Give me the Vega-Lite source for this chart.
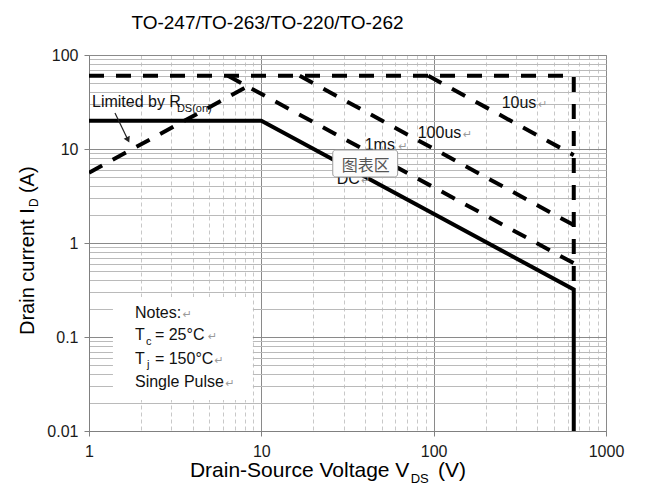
{
  "$schema": "https://vega.github.io/schema/vega-lite/v6.json",
  "width": 517,
  "height": 376,
  "autosize": {"type": "none"},
  "padding": {"left": 89, "top": 55, "right": 39, "bottom": 58},
  "background": "white",
  "title": {"text": "TO-247/TO-263/TO-220/TO-262", "font": "Liberation Sans", "fontSize": 19, "fontWeight": "normal", "color": "#000000", "anchor": "middle", "frame": "group", "dx": -80, "offset": -1, "baseline": "alphabetic"},
  "config": {
    "font": "Liberation Sans",
    "view": {"stroke": "#9a9a9a", "strokeWidth": 1}
  },
  "datasets": {
    "lines": [
      {"s": "limit", "i": 0, "x": 1, "y": 60},
      {"s": "limit", "i": 1, "x": 650, "y": 60},
      {"s": "limit", "i": 2, "x": 650, "y": 0.32},
      {"s": "10us", "i": 0, "x": 93, "y": 60},
      {"s": "10us", "i": 1, "x": 650, "y": 8.6},
      {"s": "100us", "i": 0, "x": 16.7, "y": 60},
      {"s": "100us", "i": 1, "x": 650, "y": 1.55},
      {"s": "1ms", "i": 0, "x": 6.4, "y": 60},
      {"s": "1ms", "i": 1, "x": 650, "y": 0.61},
      {"s": "rds", "i": 0, "x": 1, "y": 5.6},
      {"s": "rds", "i": 1, "x": 8.8, "y": 49},
      {"s": "DC", "i": 0, "x": 1, "y": 20},
      {"s": "DC", "i": 1, "x": 10, "y": 20},
      {"s": "DC", "i": 2, "x": 650, "y": 0.32},
      {"s": "DC", "i": 3, "x": 650, "y": 0.01}
    ],
    "boxes": [
      {"kind": "notes", "x": 1.377, "x2": 8.93, "y": 0.2664, "y2": 0.02138},
      {"kind": "tip", "x": 25.97, "x2": 61.8, "y": 9.76, "y2": 5.04}
    ],
    "arrow": [
      {"x": 1.415, "y": 24.2, "x2": 1.684, "y2": 12.5}
    ],
    "labels": [
      {"role": "main", "t": "Limited by R", "x": 1.041, "y": 28.2},
      {"role": "main", "t": "10us", "x": 248, "y": 27.3},
      {"role": "main", "t": "100us", "x": 80.8, "y": 13.1},
      {"role": "main", "t": "1ms", "x": 39.8, "y": 9.76},
      {"role": "main", "t": "DC", "x": 27.4, "y": 4.24},
      {"role": "main", "t": "Notes:", "x": 1.848, "y": 0.1592},
      {"role": "main", "t": "T", "x": 1.848, "y": 0.0929},
      {"role": "main", "t": "= 25°C", "x": 2.413, "y": 0.0929},
      {"role": "main", "t": "T", "x": 1.848, "y": 0.0516},
      {"role": "main", "t": "= 150°C", "x": 2.413, "y": 0.0516},
      {"role": "main", "t": "Single Pulse", "x": 1.848, "y": 0.0294},
      {"role": "sub", "t": "DS(on)", "x": 3.236, "y": 24.75},
      {"role": "sub", "t": "c", "x": 2.14, "y": 0.0822},
      {"role": "sub", "t": "j", "x": 2.169, "y": 0.0468},
      {"role": "mark", "t": "↵", "x": 405, "y": 27.3},
      {"role": "mark", "t": "↵", "x": 148, "y": 13.1},
      {"role": "mark", "t": "↵", "x": 62.5, "y": 9.76},
      {"role": "mark", "t": "↵", "x": 38, "y": 4.24},
      {"role": "mark", "t": "↵", "x": 3.5, "y": 0.1592},
      {"role": "mark", "t": "↵", "x": 4.9, "y": 0.0929},
      {"role": "mark", "t": "↵", "x": 5.35, "y": 0.0516},
      {"role": "mark", "t": "↵", "x": 6.2, "y": 0.0294},
      {"role": "tip", "t": "图表区", "x": 29.3, "y": 5.84},
      {"role": "xt", "t": "Drain-Source Voltage V", "x": 3.85, "y": 0.00324},
      {"role": "xs", "t": "DS", "x": 73.6, "y": 0.0028},
      {"role": "xt", "t": "(V)", "x": 106, "y": 0.00324},
      {"role": "yt", "t": "Drain current I", "x": 0.48, "y": 0.105},
      {"role": "ys", "t": "D", "x": 0.506, "y": 2.415},
      {"role": "yt", "t": "(A)", "x": 0.48, "y": 3.4}
    ]
  },
  "encoding": {
    "x": {
      "field": "x", "type": "quantitative", "title": null,
      "scale": {"type": "log", "domain": [1, 1000], "nice": false},
      "axis": {
        "values": [1,2,3,4,5,6,7,8,9,10,20,30,40,50,60,70,80,90,100,200,300,400,500,600,700,800,900,1000],
        "format": "~g",
        "labelExpr": "(datum.value==1||datum.value==10||datum.value==100||datum.value==1000) ? datum.label : ''",
        "labelFlush": false,
        "labelOverlap": false,
        "labelFont": "Liberation Sans",
        "labelFontSize": 16,
        "labelColor": "#1a1a1a",
        "labelPadding": 7,
        "grid": true,
        "gridColor": {"condition": {"test": "datum.value==1||datum.value==10||datum.value==100||datum.value==1000", "value": "#8a8a8a"}, "value": "#c8c8c8"},
        "gridDash": {"condition": {"test": "datum.value==1||datum.value==10||datum.value==100||datum.value==1000", "value": []}, "value": [4, 3]},
        "tickOpacity": {"condition": {"test": "datum.value==1||datum.value==10||datum.value==100||datum.value==1000", "value": 1}, "value": 0},
        "tickSize": 5,
        "tickColor": "#808080",
        "domainColor": "#808080",
        "title": null
      }
    },
    "y": {
      "field": "y", "type": "quantitative", "title": null,
      "scale": {"type": "log", "domain": [0.01, 100], "nice": false},
      "axis": {
        "values": [0.01,0.02,0.03,0.04,0.05,0.06,0.07,0.08,0.09,0.1,0.2,0.3,0.4,0.5,0.6,0.7,0.8,0.9,1,2,3,4,5,6,7,8,9,10,20,30,40,50,60,70,80,90,100],
        "format": "~g",
        "labelExpr": "(datum.value==0.01||datum.value==0.1||datum.value==1||datum.value==10||datum.value==100) ? datum.label : ''",
        "labelOverlap": false,
        "labelFlush": false,
        "labelFont": "Liberation Sans",
        "labelFontSize": 16,
        "labelColor": "#1a1a1a",
        "labelPadding": 6,
        "grid": true,
        "gridColor": {"condition": {"test": "datum.value==0.01||datum.value==0.1||datum.value==1||datum.value==10||datum.value==100", "value": "#8a8a8a"}, "value": "#bababa"},
        "tickOpacity": {"condition": {"test": "datum.value==0.01||datum.value==0.1||datum.value==1||datum.value==10||datum.value==100", "value": 1}, "value": 0},
        "tickSize": 5,
        "tickColor": "#808080",
        "domainColor": "#808080",
        "title": null
      }
    }
  },
  "layer": [
    {
      "data": {"name": "boxes"},
      "transform": [{"filter": "datum.kind == 'notes'"}],
      "mark": {"type": "rect", "fill": "white", "stroke": null},
      "encoding": {"x2": {"field": "x2"}, "y2": {"field": "y2"}}
    },
    {
      "data": {"name": "lines"},
      "transform": [{"filter": "datum.s != 'DC'"}],
      "mark": {"type": "line", "color": "black", "strokeWidth": 4, "strokeDash": [15, 12], "clip": true},
      "encoding": {"detail": {"field": "s"}, "order": {"field": "i", "type": "quantitative"}}
    },
    {
      "data": {"name": "lines"},
      "transform": [{"filter": "datum.s == 'DC'"}],
      "mark": {"type": "line", "color": "black", "strokeWidth": 4, "clip": true},
      "encoding": {"order": {"field": "i", "type": "quantitative"}}
    },
    {
      "data": {"name": "arrow"},
      "mark": {"type": "rule", "color": "#222222", "strokeWidth": 1.2},
      "encoding": {"x2": {"field": "x2"}, "y2": {"field": "y2"}}
    },
    {
      "data": {"name": "arrow"},
      "mark": {"type": "point", "shape": "triangle-up", "filled": true, "color": "#222222", "size": 45, "angle": 154, "opacity": 1},
      "encoding": {"x": {"field": "x2", "type": "quantitative"}, "y": {"field": "y2", "type": "quantitative"}}
    },
    {
      "data": {"name": "labels"},
      "transform": [{"filter": "datum.role == 'main'"}],
      "mark": {"type": "text", "align": "left", "baseline": "alphabetic", "font": "Liberation Sans", "fontSize": 16, "color": "#111111"},
      "encoding": {"text": {"field": "t"}}
    },
    {
      "data": {"name": "labels"},
      "transform": [{"filter": "datum.role == 'sub'"}],
      "mark": {"type": "text", "align": "left", "baseline": "alphabetic", "font": "Liberation Sans", "fontSize": 11, "color": "#111111"},
      "encoding": {"text": {"field": "t"}}
    },
    {
      "data": {"name": "labels"},
      "transform": [{"filter": "datum.role == 'mark'"}],
      "mark": {"type": "text", "align": "left", "baseline": "alphabetic", "font": "DejaVu Sans", "fontSize": 11, "color": "#9a9a9a"},
      "encoding": {"text": {"field": "t"}}
    },
    {
      "data": {"name": "boxes"},
      "transform": [{"filter": "datum.kind == 'tip'"}],
      "mark": {"type": "rect", "fill": "#fcfcfc", "stroke": "#9d9d9d", "strokeWidth": 1, "cornerRadius": 3},
      "encoding": {"x2": {"field": "x2"}, "y2": {"field": "y2"}}
    },
    {
      "data": {"name": "labels"},
      "transform": [{"filter": "datum.role == 'tip'"}],
      "mark": {"type": "text", "align": "left", "baseline": "alphabetic", "font": "Noto Sans CJK SC", "fontSize": 16, "color": "#555555"},
      "encoding": {"text": {"field": "t"}}
    },
    {
      "data": {"name": "labels"},
      "transform": [{"filter": "datum.role == 'xt'"}],
      "mark": {"type": "text", "align": "left", "baseline": "alphabetic", "font": "Liberation Sans", "fontSize": 21, "color": "#000000"},
      "encoding": {"text": {"field": "t"}}
    },
    {
      "data": {"name": "labels"},
      "transform": [{"filter": "datum.role == 'xs'"}],
      "mark": {"type": "text", "align": "left", "baseline": "alphabetic", "font": "Liberation Sans", "fontSize": 13, "color": "#000000"},
      "encoding": {"text": {"field": "t"}}
    },
    {
      "data": {"name": "labels"},
      "transform": [{"filter": "datum.role == 'yt'"}],
      "mark": {"type": "text", "align": "left", "baseline": "alphabetic", "angle": 270, "font": "Liberation Sans", "fontSize": 20, "color": "#000000"},
      "encoding": {"text": {"field": "t"}}
    },
    {
      "data": {"name": "labels"},
      "transform": [{"filter": "datum.role == 'ys'"}],
      "mark": {"type": "text", "align": "left", "baseline": "alphabetic", "angle": 270, "font": "Liberation Sans", "fontSize": 12, "color": "#000000"},
      "encoding": {"text": {"field": "t"}}
    }
  ]
}
